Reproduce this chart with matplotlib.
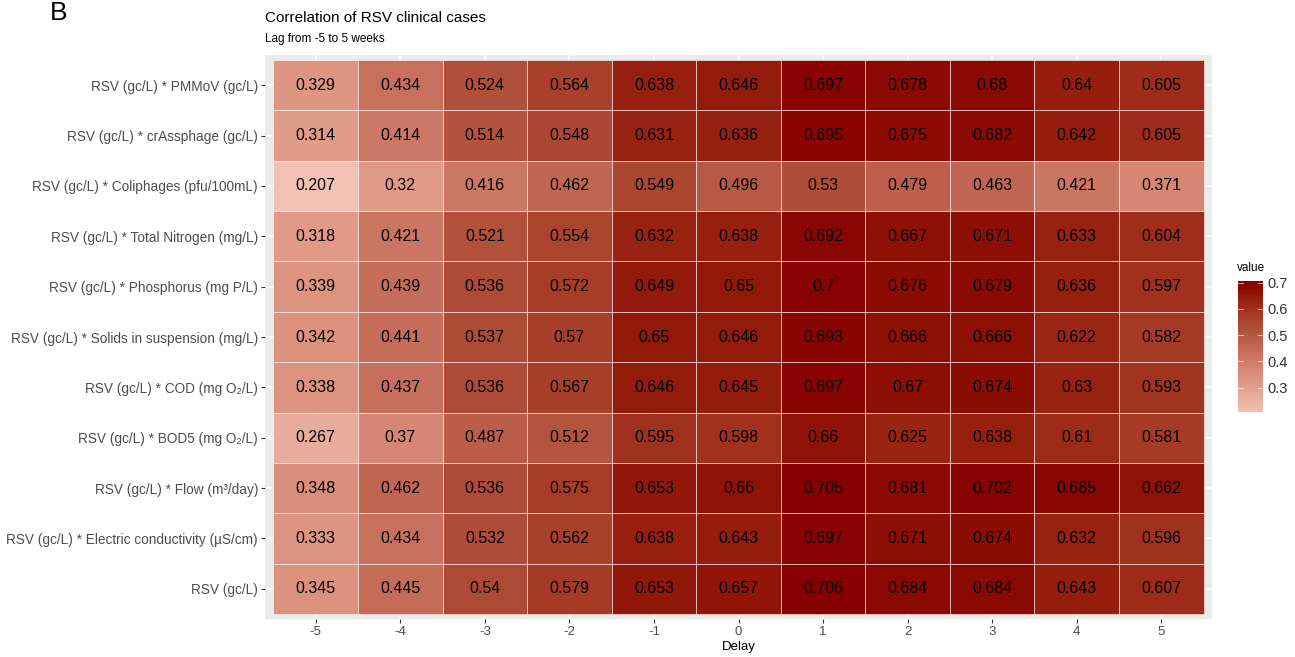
import numpy as np
import matplotlib
matplotlib.use("Agg")
import matplotlib.pyplot as plt
from matplotlib.colors import LinearSegmentedColormap, Normalize

plt.rcParams['font.family'] = ['Liberation Sans', 'DejaVu Sans']

# delays in weeks, columns of the heatmap
delays = [-5, -4, -3, -2, -1, 0, 1, 2, 3, 4, 5]

# row labels, top to bottom
variables = [
    "RSV (gc/L) * PMMoV (gc/L)",
    "RSV (gc/L) * crAssphage (gc/L)",
    "RSV (gc/L) * Coliphages (pfu/100mL)",
    "RSV (gc/L) * Total Nitrogen (mg/L)",
    "RSV (gc/L) * Phosphorus (mg P/L)",
    "RSV (gc/L) * Solids in suspension (mg/L)",
    "RSV (gc/L) * COD (mg O\u2082/L)",
    "RSV (gc/L) * BOD5 (mg O\u2082/L)",
    "RSV (gc/L) * Flow (m\u00b3/day)",
    "RSV (gc/L) * Electric conductivity (\u00b5S/cm)",
    "RSV (gc/L)",
]

pmmov       = [0.329, 0.434, 0.524, 0.564, 0.638, 0.646, 0.697, 0.678, 0.68, 0.64, 0.605]
crassphage  = [0.314, 0.414, 0.514, 0.548, 0.631, 0.636, 0.695, 0.675, 0.682, 0.642, 0.605]
coliphages  = [0.207, 0.32, 0.416, 0.462, 0.549, 0.496, 0.53, 0.479, 0.463, 0.421, 0.371]
nitrogen    = [0.318, 0.421, 0.521, 0.554, 0.632, 0.638, 0.692, 0.667, 0.671, 0.633, 0.604]
phosphorus  = [0.339, 0.439, 0.536, 0.572, 0.649, 0.65, 0.7, 0.676, 0.679, 0.636, 0.597]
solids      = [0.342, 0.441, 0.537, 0.57, 0.65, 0.646, 0.693, 0.666, 0.666, 0.622, 0.582]
cod         = [0.338, 0.437, 0.536, 0.567, 0.646, 0.645, 0.697, 0.67, 0.674, 0.63, 0.593]
bod5        = [0.267, 0.37, 0.487, 0.512, 0.595, 0.598, 0.66, 0.625, 0.638, 0.61, 0.581]
flow        = [0.348, 0.462, 0.536, 0.575, 0.653, 0.66, 0.705, 0.681, 0.702, 0.685, 0.662]
conductivity = [0.333, 0.434, 0.532, 0.562, 0.638, 0.643, 0.697, 0.671, 0.674, 0.632, 0.596]
rsv_only    = [0.345, 0.445, 0.54, 0.579, 0.653, 0.657, 0.706, 0.684, 0.684, 0.643, 0.607]

values = np.array([pmmov, crassphage, coliphages, nitrogen, phosphorus, solids,
                   cod, bod5, flow, conductivity, rsv_only])

vmin, vmax = values.min(), values.max()
norm = Normalize(vmin, vmax)
# light pink -> dark red, roughly a Lab-style gradient
stops = [0.207, 0.329, 0.434, 0.524, 0.581, 0.61, 0.638, 0.662, 0.706]
cols = ["#F2C1B4", "#DE9682", "#C8705E", "#B0503A", "#A53A26", "#9E2A18",
        "#962010", "#8E1206", "#870000"]
cmap = LinearSegmentedColormap.from_list(
    "reds", [(float(norm(s)), c) for s, c in zip(stops, cols)])

fig = plt.figure(figsize=(12.95, 6.57), dpi=100)
ax = fig.add_axes([265 / 1295, 1 - 619 / 657, 947 / 1295, 564 / 657])
ax.set_facecolor("#EBEBEB")

n_rows = len(variables)
ypos = np.arange(n_rows)[::-1]  # first row on top

# grid lines under the tiles
for x in delays:
    ax.axvline(x, color="white", lw=1.1, zorder=0)
for y in ypos:
    ax.axhline(y, color="white", lw=1.1, zorder=0)

for i, row in enumerate(values):
    for j, v in enumerate(row):
        ax.add_patch(plt.Rectangle((delays[j] - 0.5, ypos[i] - 0.5), 1, 1,
                                   facecolor=cmap(norm(v)),
                                   edgecolor=(1, 1, 1, 0.55), lw=0.7, zorder=1))
        ax.text(delays[j], ypos[i], f"{v:g}", ha="center", va="center",
                fontsize=11.5, color="black", zorder=2)

ax.set_xlim(-5.6, 5.6)
ax.set_ylim(-0.6, n_rows - 0.4)
ax.set_xticks(delays)
ax.set_xticklabels([str(d) for d in delays])
ax.set_yticks(ypos)
ax.set_yticklabels(variables)
for s in ax.spines.values():
    s.set_visible(False)
ax.tick_params(axis="both", colors="#333333", labelcolor="#4D4D4D",
               length=3, width=0.8, pad=2)
ax.tick_params(axis="y", labelsize=9.8)
ax.tick_params(axis="x", labelsize=9.5)
ax.set_xlabel("Delay", fontsize=9.5, labelpad=2)

fig.text(265 / 1295, 1 - 18 / 657, "Correlation of RSV clinical cases",
         fontsize=11, va="center", ha="left")
fig.text(265 / 1295, 1 - 39 / 657, "Lag from -5 to 5 weeks",
         fontsize=8.5, va="center", ha="left")
fig.text(50 / 1295, 1 - 13 / 657, "B", fontsize=19, va="center", ha="left")

# colour bar
cax = fig.add_axes([1238 / 1295, 1 - 412 / 657, 25 / 1295, 131 / 657])
grad = np.linspace(vmin, vmax, 256).reshape(-1, 1)
cax.imshow(grad, aspect="auto", cmap=cmap, norm=norm, origin="lower",
           extent=[0, 1, vmin, vmax])
cax.set_xlim(0, 1)
cax.set_ylim(vmin, vmax)
cax.set_xticks([])
cbar_ticks = [0.3, 0.4, 0.5, 0.6, 0.7]
cax.set_yticks(cbar_ticks)
cax.set_yticklabels([f"{t:g}" for t in cbar_ticks])
cax.yaxis.tick_right()
cax.tick_params(axis="y", length=0, color="white", labelsize=10.5,
                labelcolor="#333333", pad=3)
for t in cbar_ticks:
    cax.plot([0, 0.2], [t, t], color="white", lw=0.8, alpha=0.6)
    cax.plot([0.8, 1], [t, t], color="white", lw=0.8, alpha=0.6)
for s in cax.spines.values():
    s.set_visible(False)
fig.text(1237 / 1295, 1 - 268 / 657, "value", fontsize=8.5, va="center", ha="left")

fig.savefig("out.png", dpi=100)
